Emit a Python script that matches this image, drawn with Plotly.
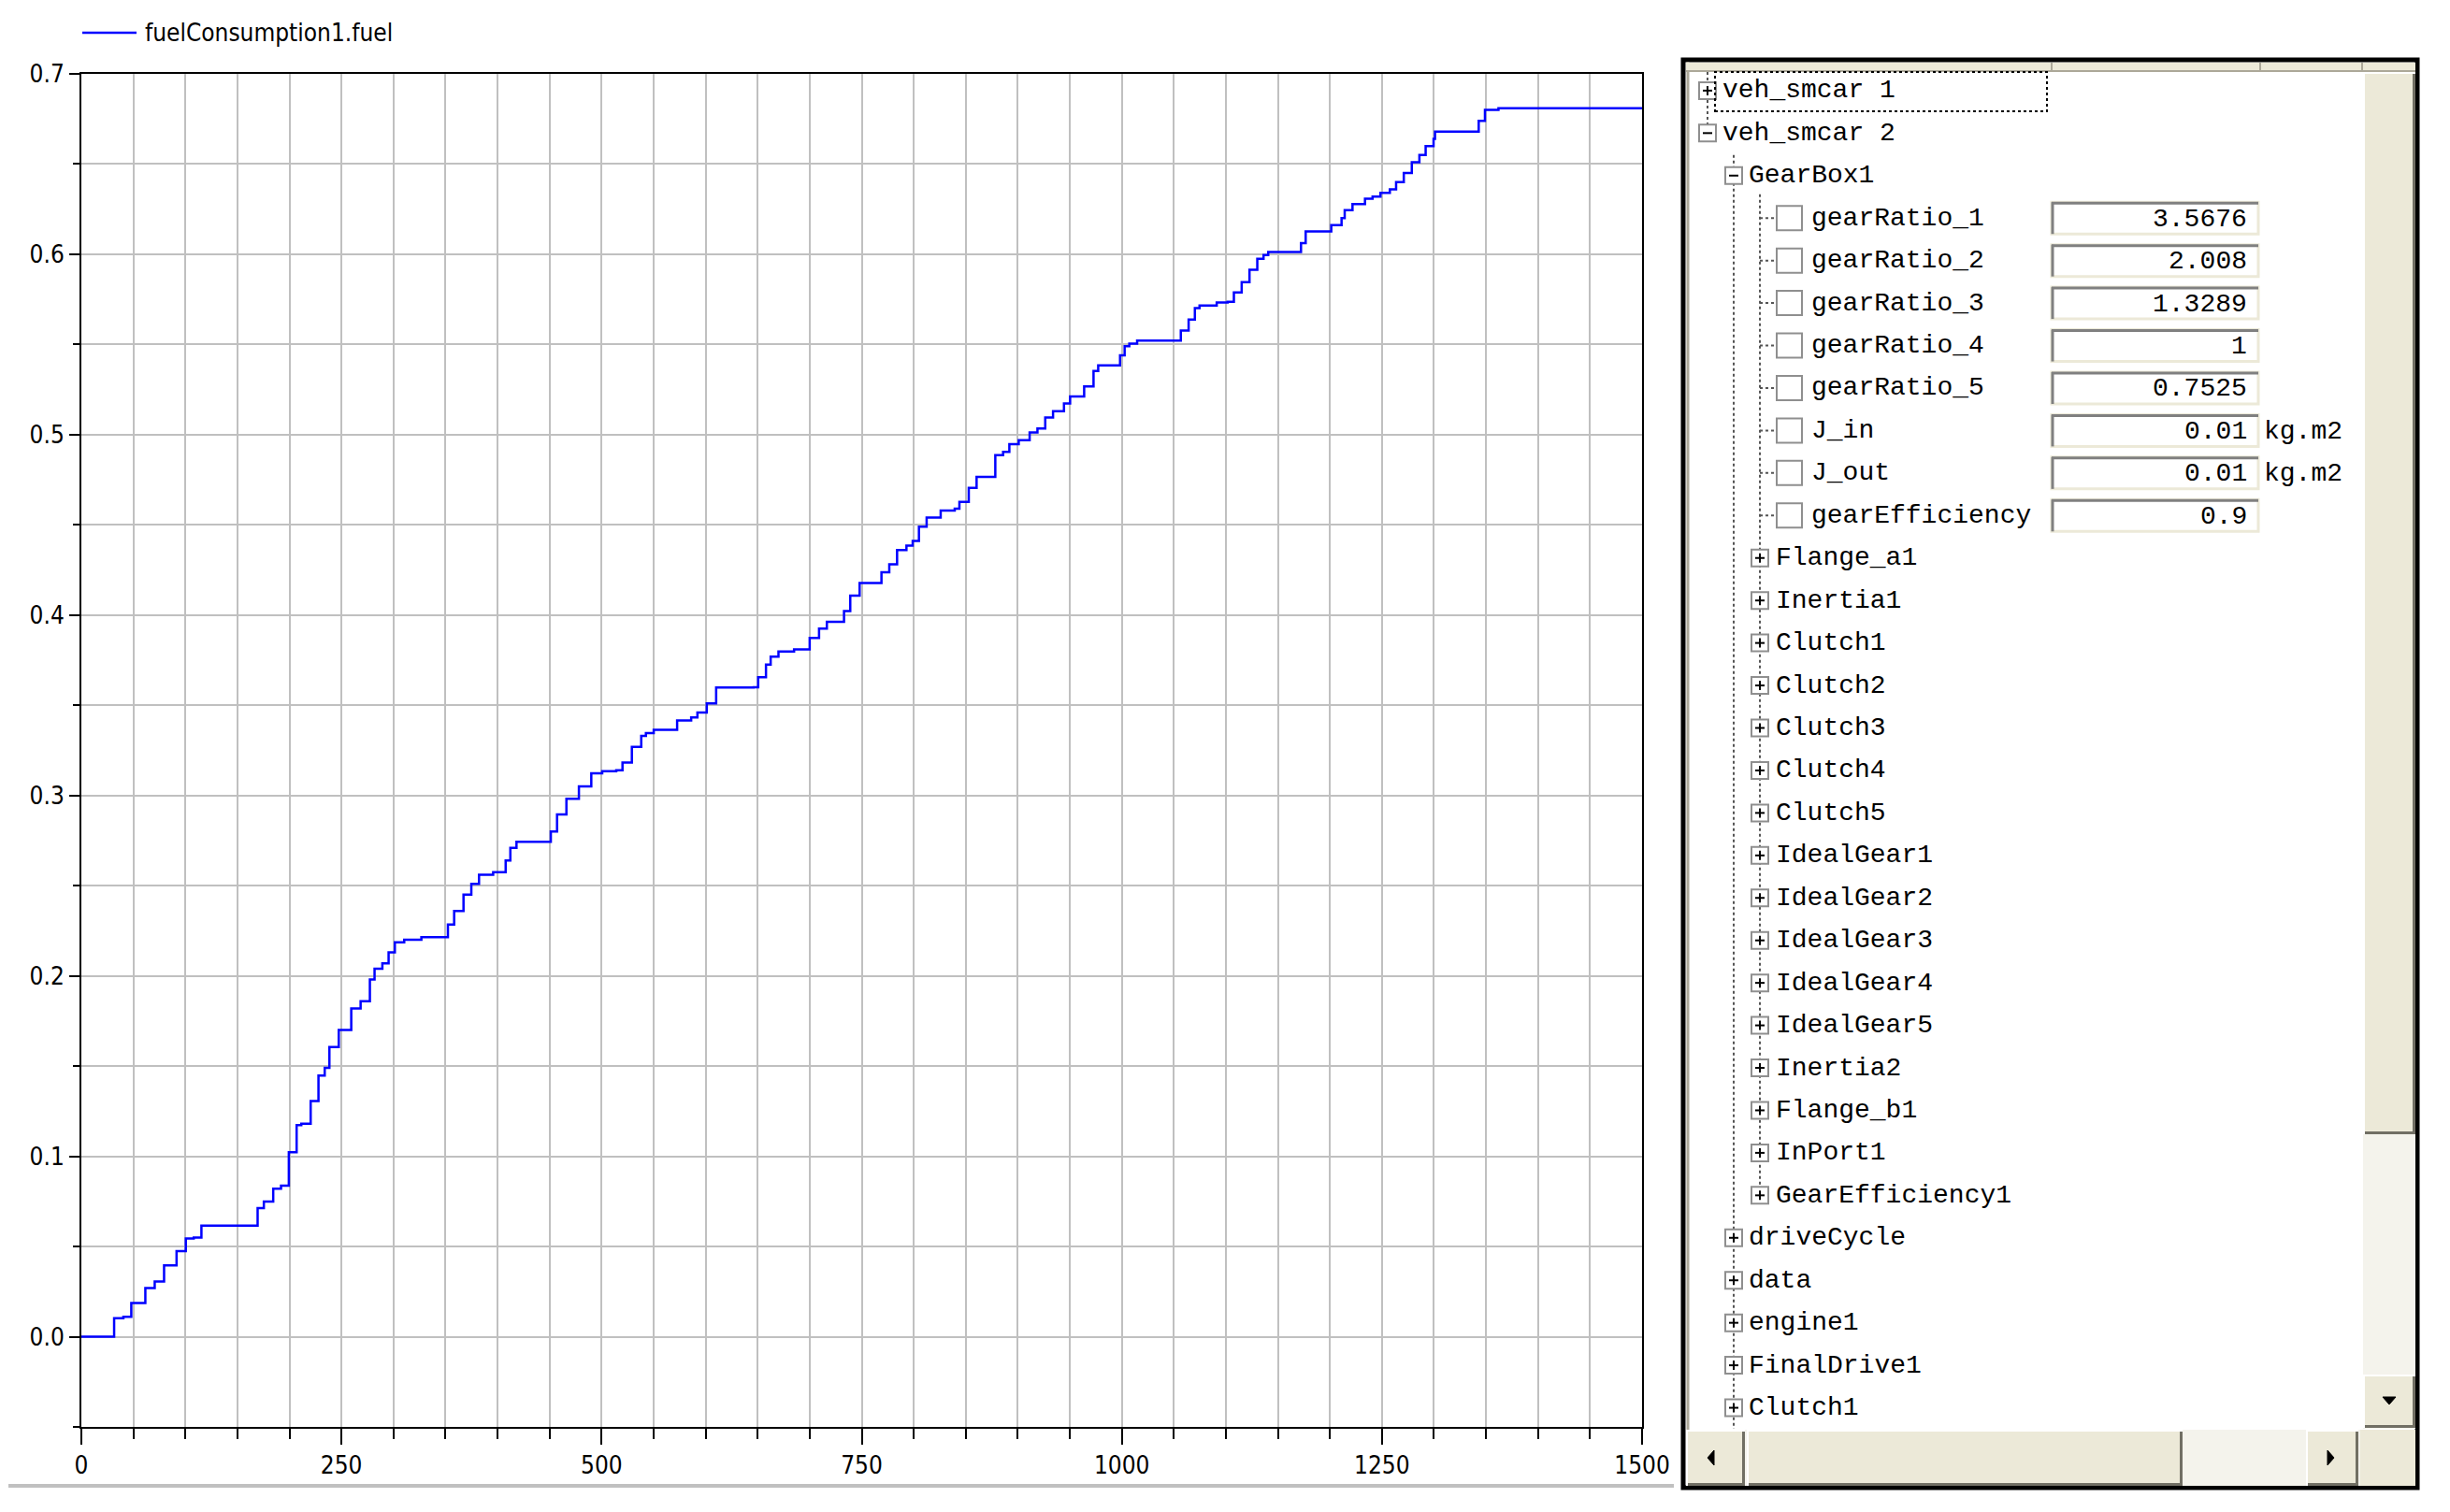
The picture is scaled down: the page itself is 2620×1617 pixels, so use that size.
import plotly.graph_objects as go

# fuelConsumption1.fuel (time in s, fuel in kg)
time_s = [0, 22.5, 31.5, 40.4, 48, 57, 61.5, 70.5, 79.5, 91.5, 100.4, 108, 115.4, 164.9,
          169.4, 175.4, 184.4, 191.9, 199.4, 206.9, 211.4, 220.4, 227.9, 233.9, 238.4,
          247.4, 259.4, 268.4, 277.3, 281.8, 289.3, 295.3, 301.3, 310.3, 326.8, 349.3,
          352.3, 358.3, 367.3, 374.8, 382.2, 395.8, 405.6, 407.8, 412.3, 418.2, 449.7,
          451.2, 457.2, 466.2, 478.2, 490.1, 500.6, 514.1, 520.1, 529.1, 538.1, 542.6,
          550.1, 571.1, 572.6, 586.1, 592.1, 601.1, 610.1, 646, 650.5, 658, 662.5, 670,
          685, 694, 700, 709, 716.5, 727, 733, 739, 748, 764.5, 769, 776.5, 784, 793, 799,
          805, 812.4, 825.9, 839.4, 843.9, 852.9, 860.4, 869.4, 878.4, 885.9, 891.9,
          900.9, 911.4, 918.9, 926.4, 933.9, 944.4, 950.3, 962.3, 963.8, 972.8, 977.3,
          987.8, 998.3, 1002.7, 1007.2, 1014.7, 1053.7, 1056.7, 1064.2, 1070.2, 1074.7,
          1091.2, 1101.7, 1107.7, 1115.2, 1122.7, 1130.2, 1136.2, 1140.7, 1170.1,
          1172.2, 1176.7, 1199.2, 1201.3, 1211.2, 1214.2, 1221.7, 1233.7, 1241, 1248.6,
          1257.6, 1263.6, 1271, 1278.7, 1286, 1292, 1299.6, 1301, 1338, 1343, 1349,
          1362, 1500]
fuel_kg = [0, 0, 0.0103, 0.011, 0.0187, 0.0187, 0.027, 0.0306, 0.0395, 0.0474, 0.0545,
           0.055, 0.0616, 0.0616, 0.0713, 0.0749, 0.082, 0.0837, 0.1023, 0.1173, 0.118,
           0.1306, 0.1448, 0.149, 0.1606, 0.170, 0.182, 0.186, 0.198, 0.204, 0.207,
           0.213, 0.2186, 0.220, 0.2215, 0.2215, 0.2285, 0.236, 0.245, 0.251, 0.256,
           0.2575, 0.2575, 0.264, 0.271, 0.2743, 0.2743, 0.280, 0.2895, 0.2982, 0.305,
           0.3123, 0.3135, 0.314, 0.3183, 0.327, 0.333, 0.3346, 0.3364, 0.3364, 0.3416,
           0.3433, 0.346, 0.351, 0.3598, 0.360, 0.3656, 0.3725, 0.3769, 0.3798, 0.381,
           0.381, 0.3873, 0.3925, 0.3963, 0.3963, 0.4022, 0.4108, 0.4178, 0.4178,
           0.4238, 0.4281, 0.436, 0.4385, 0.4411, 0.449, 0.4541, 0.4579, 0.459, 0.4628,
           0.4705, 0.4766, 0.4766, 0.4887, 0.4905, 0.4948, 0.4970, 0.5012, 0.5034,
           0.5095, 0.513, 0.5173, 0.5212, 0.5212, 0.5267, 0.5353, 0.5384, 0.5384, 0.544,
           0.5491, 0.5505, 0.5522, 0.5522, 0.5577, 0.5638, 0.5702, 0.5716, 0.5733,
           0.5736, 0.5788, 0.5845, 0.5914, 0.5975, 0.5996, 0.6013, 0.6013, 0.6062,
           0.6126, 0.6126, 0.6162, 0.620, 0.6244, 0.6278, 0.6308, 0.632, 0.634, 0.636,
           0.640, 0.645, 0.651, 0.655, 0.660, 0.664, 0.668, 0.668, 0.674, 0.680, 0.681,
           0.681]
series_name = "fuelConsumption1.fuel"

# model browser tree on the right
tree_names = ["veh_smcar 1", "veh_smcar 2", "GearBox1", "gearRatio_1", "gearRatio_2",
              "gearRatio_3", "gearRatio_4", "gearRatio_5", "J_in", "J_out",
              "gearEfficiency", "Flange_a1", "Inertia1", "Clutch1", "Clutch2", "Clutch3",
              "Clutch4", "Clutch5", "IdealGear1", "IdealGear2", "IdealGear3", "IdealGear4",
              "IdealGear5", "Inertia2", "Flange_b1", "InPort1", "GearEfficiency1",
              "driveCycle", "data", "engine1", "FinalDrive1", "Clutch1"]
tree_depth = [0, 0, 1, 3, 3, 3, 3, 3, 3, 3, 3, 2, 2, 2, 2, 2, 2, 2, 2, 2, 2, 2, 2, 2, 2,
              2, 2, 1, 1, 1, 1, 1]
tree_mark = ["+", "-", "-", "", "", "", "", "", "", "", "", "+", "+", "+", "+", "+", "+",
             "+", "+", "+", "+", "+", "+", "+", "+", "+", "+", "+", "+", "+", "+", "+"]
param_values = ["3.5676", "2.008", "1.3289", "1", "0.7525", "0.01", "0.01", "0.9"]
param_units = ["", "", "", "", "", "kg.m2", "kg.m2", ""]

W, H = 2620, 1617
L, R, T, B = 87, 1756, 79, 1526
NARROW = "Liberation Sans Narrow, Arial Narrow, DejaVu Sans Condensed, sans-serif"
MONO = "Liberation Mono, DejaVu Sans Mono, monospace"
FACE = "#ece9d8"
TRACK = "#f4f3ec"


def fx(x):
    return (x - L) / (R - L)


def fy(y):
    return (B - y) / (B - T)


shapes = []
notes = []


def rect(x0, y0, x1, y1, fill=None, color=None, width=0, dash="solid"):
    shapes.append(dict(type="rect", xref="paper", yref="paper",
                       x0=fx(x0), x1=fx(x1), y0=fy(y1), y1=fy(y0),
                       fillcolor=fill or "rgba(0,0,0,0)",
                       line=dict(color=color or "rgba(0,0,0,0)", width=width, dash=dash)))


def seg(x0, y0, x1, y1, color="black", width=2, dash="solid"):
    shapes.append(dict(type="line", xref="paper", yref="paper",
                       x0=fx(x0), x1=fx(x1), y0=fy(y0), y1=fy(y1),
                       line=dict(color=color, width=width, dash=dash)))


def tri(pts):
    path = "M " + " L ".join(f"{fx(a)},{fy(b)}" for a, b in pts) + " Z"
    shapes.append(dict(type="path", xref="paper", yref="paper", path=path,
                       fillcolor="black", line=dict(color="black", width=1)))


def text(x, y, s, anchor="left", font=MONO, size=28):
    notes.append(dict(x=fx(x), y=fy(y), xref="paper", yref="paper", text=s,
                      showarrow=False, xanchor=anchor, yanchor="middle",
                      font=dict(family=font, size=size, color="black")))


def button(x0, y0, x1, y1):
    rect(x0, y0, x1, y1, fill=FACE)
    seg(x0, y1 - 1.5, x1, y1 - 1.5, "#716f64", 3)
    seg(x1 - 1.5, y0, x1 - 1.5, y1, "#716f64", 3)
    seg(x0, y0 + 1, x1, y0 + 1, "white", 2)
    seg(x0 + 1, y0, x0 + 1, y1, "white", 2)


# legend drawn by hand at the top left
seg(88, 35, 146, 35, "#0000ff", 2.5)
text(153, 35, series_name, font=NARROW, size=26)

# grey separator under the plot
seg(9, 1589, 1790, 1589, "#c0c0c0", 4)

# ---- tree panel ----
rect(1800, 64, 2585, 1591, fill="white", color="black", width=5)
seg(1805, 66, 1805, 1588, "#aca899", 3)
rect(1803, 67, 2583, 76, fill=FACE)
seg(1803, 76, 2583, 76, "#aca899", 2)
for xd in [2194, 2417, 2526]:
    seg(xd, 67, xd, 76, "#aca899", 2)

ROW0, STEP = 96.9, 45.44
box_cx = {0: 1826, 1: 1854, 2: 1882}
text_x = {0: 1840, 1: 1868, 2: 1897, 3: 1935}


def row_y(i):
    return ROW0 + i * STEP


# dotted tree lines
seg(1826, 77, 1826, row_y(1), "#555555", 2, "dot")
seg(1854, row_y(2) - 22, 1854, 1528, "#555555", 2, "dot")
seg(1882, row_y(2) + 20, 1882, row_y(26), "#555555", 2, "dot")

k = 0
for i, (name, depth, mark) in enumerate(zip(tree_names, tree_depth, tree_mark)):
    yc = row_y(i)
    if depth == 3:
        seg(1882, yc, 1899, yc, "#555555", 2, "dot")
        rect(1900, yc - 13, 1927, yc + 13, fill="white", color="#8f8f8f", width=2)
        rect(2194, yc - 17, 2415, yc + 17, fill="white", color=FACE, width=3)
        seg(2194, yc - 16, 2415, yc - 16, "#808080", 3)
        seg(2195, yc - 17, 2195, yc + 17, "#808080", 3)
        text(2405, yc + 1, param_values[k], anchor="right")
        if param_units[k]:
            text(2419, yc + 1, param_units[k])
        k += 1
    else:
        cx = box_cx[depth]
        rect(cx - 9, yc - 9, cx + 9, yc + 9, fill="white", color="#8f8f8f", width=2)
        seg(cx - 5, yc, cx + 5, yc, "black", 2)
        if mark == "+":
            seg(cx, yc - 5, cx, yc + 5, "black", 2)
    text(text_x[depth], yc, name)

# focus rectangle around the first node
rect(1834, 77, 2189, 119, color="black", width=2, dash="dot")

# vertical scrollbar
rect(2527, 77, 2583, 1528, fill=TRACK)
button(2527, 77, 2583, 1213)
button(2527, 1470, 2583, 1527)
tri([(2548, 1494), (2562, 1494), (2555, 1502)])

# horizontal scrollbar
rect(1803, 1529, 2524, 1589, fill=TRACK)
button(1803, 1529, 1866, 1589)
button(1868, 1529, 2334, 1589)
button(2466, 1529, 2522, 1589)
rect(2524, 1529, 2583, 1589, fill=FACE)
tri([(1833, 1551), (1833, 1567), (1826, 1559)])
tri([(2489, 1551), (2489, 1567), (2496, 1559)])

fig = go.Figure(go.Scatter(
    x=time_s, y=fuel_kg, mode="lines", name=series_name,
    line=dict(color="#0000ff", width=2.5, shape="hv"), showlegend=False))

axis_common = dict(
    showline=True, linecolor="black", linewidth=2, mirror=True,
    showgrid=True, gridcolor="#c0c0c0", gridwidth=2, zeroline=False,
    ticks="outside", tickcolor="black", tickwidth=2,
    tickfont=dict(family=NARROW, size=26, color="black"),
)
fig.update_xaxes(range=[0, 1500], tick0=0, dtick=250, ticklen=17,
                 minor=dict(dtick=50, ticklen=11, tickwidth=2, tickcolor="black",
                            showgrid=True, gridcolor="#c0c0c0", gridwidth=2),
                 **axis_common)
fig.update_yaxes(range=[-0.05, 0.7], tick0=0, dtick=0.1, ticklen=11, tickformat=".1f",
                 minor=dict(dtick=0.05, ticklen=7, tickwidth=2, tickcolor="black",
                            showgrid=True, gridcolor="#c0c0c0", gridwidth=2),
                 **axis_common)

fig.update_layout(
    width=W, height=H,
    margin=dict(l=L, r=W - R, t=T, b=H - B, pad=0),
    plot_bgcolor="white", paper_bgcolor="white",
    shapes=shapes, annotations=notes,
)

fig.write_html("out.html", config={"displayModeBar": False},
               post_script="document.body.style.margin='0px';")
